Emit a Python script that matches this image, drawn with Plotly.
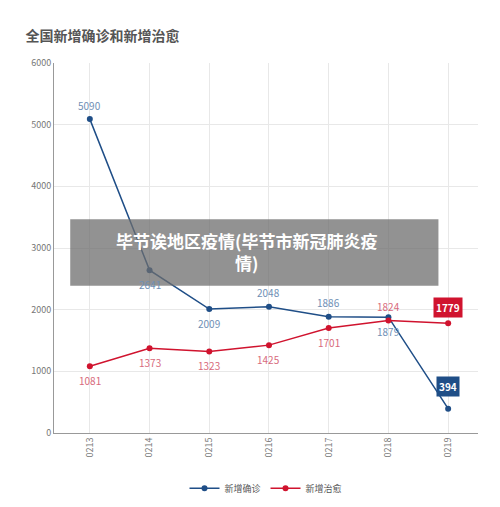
import plotly.graph_objects as go

dates = ["0213", "0214", "0215", "0216", "0217", "0218", "0219"]
confirmed = [5090, 2641, 2009, 2048, 1886, 1879, 394]
cured = [1081, 1373, 1323, 1425, 1701, 1824, 1779]

blue = "#1f4e87"
red = "#d0132e"
F = "Noto Sans CJK SC"

fig = go.Figure()
fig.add_trace(go.Scatter(x=dates, y=confirmed, name="新增确诊", mode="lines+markers",
                         line=dict(color=blue, width=1.5), marker=dict(size=6, color=blue)))
fig.add_trace(go.Scatter(x=dates, y=cured, name="新增治愈", mode="lines+markers",
                         line=dict(color=red, width=1.5), marker=dict(size=6, color=red)))

above_c = [True, False, False, True, True, False]
for i in range(6):
    fig.add_annotation(x=i, y=confirmed[i], text=str(confirmed[i]), showarrow=False,
                       yshift=14 if above_c[i] else -14, font=dict(size=10, color="#6f8fb5", family=F))
above_r = [False, False, False, False, False, True]
for i in range(6):
    fig.add_annotation(x=i, y=cured[i], text=str(cured[i]), showarrow=False,
                       yshift=14 if above_r[i] else -14, font=dict(size=10, color="#d86a7c", family=F))
fig.add_annotation(x=6, y=cured[6], text="<b>1779</b>", showarrow=False, yshift=16,
                   bgcolor=red, font=dict(size=10, color="white", family=F), borderpad=2)
fig.add_annotation(x=6, y=confirmed[6], text="<b>394</b>", showarrow=False, yshift=22,
                   bgcolor=blue, font=dict(size=10, color="white", family=F), borderpad=2)

fig.update_layout(
    width=500, height=507, paper_bgcolor="white", plot_bgcolor="white",
    margin=dict(l=46, r=30, t=55, b=52),
    font=dict(family=F, size=10, color="#666"),
    title=dict(text="<b>全国新增确诊和新增治愈</b>", x=0.035, y=0.955, xanchor="left",
               font=dict(size=14, color="#555", family=F)),
    xaxis=dict(type="category", range=[-0.6, 6.5], tickangle=-90, showgrid=True, gridcolor="#e8e8e8",
               showline=True, linecolor="#999", ticks="", tickfont=dict(size=9, color="#777")),
    yaxis=dict(range=[0, 6000], dtick=1000, showgrid=True, gridcolor="#e8e8e8",
               showline=True, linecolor="#999", zeroline=False, tickfont=dict(size=9, color="#777")),
    legend=dict(orientation="h", x=0.5, xanchor="center", y=-0.11, yanchor="top",
                font=dict(size=9, color="#555")),
)
fig.add_shape(type="rect", xref="paper", yref="paper", x0=(68-52)/418, x1=(431-52)/418,
              y0=(435-287)/372, y1=(435-220)/372, fillcolor="rgba(110,110,110,0.75)", line_width=0)
fig.add_annotation(xref="paper", yref="paper", x=(242-52)/418, y=(435-253)/372, showarrow=False,
                   text="<b>毕节诶地区疫情(毕节市新冠肺炎疫<br>情)</b>", align="center",
                   font=dict(size=17, color="white", family=F))
fig.write_html("out.html")
